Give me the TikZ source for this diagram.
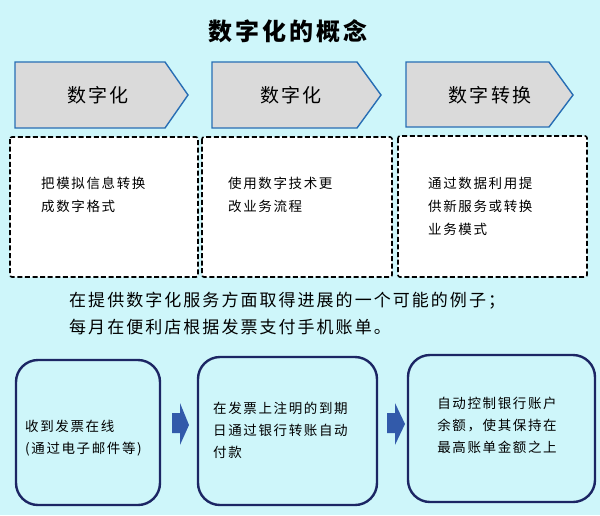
\documentclass[tikz,border=0pt]{standalone}
\usepackage{fontspec}
\setmainfont{Noto Sans CJK SC}[LetterSpace=12]
\definecolor{bgc}{RGB}{206,246,250}
\definecolor{chevfill}{RGB}{218,218,218}
\definecolor{chevline}{RGB}{40,110,180}
\definecolor{navy}{RGB}{28,38,100}
\definecolor{arrowblue}{RGB}{50,90,170}
\tikzset{
  chev/.style={fill=chevfill, draw=chevline, line width=1.4pt, line join=miter},
  chevtext/.style={font=\fontsize{19}{22}\selectfont, text=black, inner sep=0},
  dashbox/.style={fill=white, draw=black, line width=1.6pt, dash pattern=on 5pt off 2.6pt, rounded corners=2pt},
  boxtext/.style={font=\fontsize{13.5}{23}\selectfont, align=left, anchor=north west, inner sep=0, text=black},
  roundbox/.style={fill=bgc, draw=navy, line width=2.4pt, rounded corners=22pt},
  bottext/.style={font=\fontsize{13.5}{22}\selectfont, align=left, inner sep=0, text=black},
  blockarrow/.style={fill=arrowblue, draw=none},
}
\begin{document}
\begin{tikzpicture}[x=1pt,y=-1pt]
\useasboundingbox (0,0) rectangle (600,515);
\fill[bgc] (0,0) rectangle (600,515);
% title
\node[font=\fontsize{24}{28}\selectfont\bfseries, inner sep=0] (title) at (288,31) {数字化的概念};
% chevrons
\draw[chev] (15,62) -- (165,62) -- (188,95) -- (165,128) -- (15,128) -- cycle;
\node[chevtext] (c1) at (98,95) {数字化};
\draw[chev] (212,62) -- (357,62) -- (381,95) -- (357,128) -- (212,128) -- cycle;
\node[chevtext] (c2) at (291,95) {数字化};
\draw[chev] (406,62) -- (549,62) -- (573,95) -- (549,127) -- (406,127) -- cycle;
\node[chevtext] (c3) at (490,95) {数字转换};
% dashed boxes
\draw[dashbox] (10,137) rectangle (198,277);
\node[boxtext] (d1) at (41,177) {把模拟信息转换\\成数字格式};
\draw[dashbox] (202,137) rectangle (392,277);
\node[boxtext] (d2) at (228,177) {使用数字技术更\\改业务流程};
\draw[dashbox] (398,136) rectangle (587,277);
\node[boxtext] (d3) at (428,177) {通过数据利用提\\供新服务或转换\\业务模式};
% middle text
\node[font=\fontsize{17}{27}\selectfont, align=left, anchor=north west, inner sep=0] (mid) at (69,292)
  {在提供数字化服务方面取得进展的一个可能的例子；\\每月在便利店根据发票支付手机账单。};
% bottom boxes
\draw[roundbox] (16,360) rectangle (160,505);
\node[bottext, anchor=west] (b1) at (25,438) {收到发票在线\\(通过电子邮件等)};
\draw[roundbox] (198,357) rectangle (377,505);
\node[bottext, anchor=west] (b2) at (213,430) {在发票上注明的到期\\日通过银行转账自动\\付款};
\draw[roundbox] (408,355) rectangle (595,502);
\node[bottext, align=center] (b3) at (497,425) {自动控制银行账户\\余额，使其保持在\\最高账单金额之上};
% block arrows
\fill[blockarrow] (172,413) -- (180,413) -- (180,403) -- (189,425) -- (180,445) -- (180,433) -- (172,433) -- cycle;
\fill[blockarrow] (387,413) -- (395,413) -- (395,403) -- (405,424) -- (395,445) -- (395,433) -- (387,433) -- cycle;
\end{tikzpicture}
\end{document}
